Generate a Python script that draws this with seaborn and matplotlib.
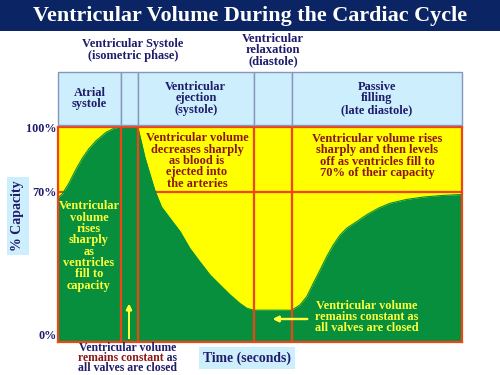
"""Ventricular volume over one cardiac cycle, drawn as a filled area chart."""

import matplotlib.pyplot as plt
import seaborn as sns
from matplotlib.patches import Rectangle
from matplotlib.transforms import Bbox

# Phase boundaries (seconds) and their header labels
phase_edges = [0.0, 0.125, 0.158, 0.388, 0.463, 0.8]
phase_labels = [
    "Atrial\nsystole",
    "",
    "Ventricular\nejection\n(systole)",
    "",
    "Passive\nfilling\n(late diastole)",
]

# Ventricular volume (% of capacity)
time_s = [
    0.0, 0.009, 0.022, 0.036, 0.049, 0.061, 0.075, 0.095, 0.111, 0.121, 0.158,
    0.166, 0.172, 0.182, 0.192, 0.205, 0.222, 0.242, 0.261, 0.281, 0.301,
    0.321, 0.341, 0.36, 0.374, 0.387, 0.463, 0.479, 0.4925, 0.5055, 0.519,
    0.532, 0.545, 0.558, 0.572, 0.5915, 0.612, 0.635, 0.657, 0.69, 0.723,
    0.757, 0.79, 0.8,
]
volume_pct = [
    67, 69, 74, 80.5, 85.8, 89.8, 93.5, 97.5, 99.4, 100, 100,
    92.1, 86, 78.1, 70.4, 62.8, 57.5, 51.3, 43.6, 37.3, 31.2,
    26.5, 21.9, 18, 15.7, 14.8, 14.8, 17.2, 21.1, 27.3, 33.5,
    39.7, 45.1, 49.6, 53, 56, 59.3, 62.3, 64.5, 66.3, 67.4,
    68.1, 68.5, 68.6,
]
y_ticks = [0, 70, 100]
y_tick_labels = ["0%", "70%", "100%"]

NAVY = "#1e1c6b"
TITLE_BG = "#0b2463"
MAROON = "#8c1616"
GREEN = "#078f3e"
YELLOW = "#ffff00"
YELLOW_TXT = "#ffff3c"
RED = "#ee4416"
LIGHT_BLUE = "#cdeefc"
BOX_EDGE = "#8896be"

W, H = 500, 375


def fx(x):
    return x / W


def fy(y):
    return 1 - y / H


sns.set_theme(style="white")
plt.rcParams["font.family"] = ["Liberation Serif", "DejaVu Serif"]
plt.rcParams["font.weight"] = "bold"

fig = plt.figure(figsize=(5, 3.75), dpi=100)
fig.patch.set_facecolor("white")

# title bar
fig.patches.append(
    Rectangle((0, fy(31)), 1, 31 / H, transform=fig.transFigure,
              facecolor=TITLE_BG, edgecolor="none", zorder=0)
)
fig.text(fx(250), fy(16), "Ventricular Volume During the Cardiac Cycle",
         color="white", fontsize=15.9, fontweight="bold", ha="center", va="center")

# main plot
ax = fig.add_axes([fx(58), fy(342), 404 / W, 215 / H])
ax.set_facecolor(YELLOW)
ax.axhline(70, color=RED, lw=1.6, zorder=1)
ax.fill_between(time_s, 0, volume_pct, color=GREEN, lw=0, zorder=2)
sns.lineplot(x=time_s, y=volume_pct, ax=ax, color=GREEN, lw=0.8, zorder=2)
for edge in phase_edges[1:-1]:
    ax.axvline(edge, color=RED, lw=1.6, zorder=3)
ax.set_xlim(phase_edges[0], phase_edges[-1])
ax.set_ylim(0, 100)
ax.set_xticks([])
ax.set_yticks(y_ticks)
ax.set_yticklabels(y_tick_labels, color=NAVY, fontsize=8.7, fontweight="bold")
ax.get_yticklabels()[0].set_va("bottom")
ax.tick_params(axis="y", length=0, pad=1)
for side, spine in ax.spines.items():
    spine.set_color(RED)
    spine.set_linewidth(1.6)
    spine.set_zorder(4)

# phase header row
hax = fig.add_axes([fx(58), fy(125), 404 / W, 53 / H], sharex=ax)
hax.set_ylim(0, 1)
hax.axis("off")
for left, right, label in zip(phase_edges[:-1], phase_edges[1:], phase_labels):
    hax.add_patch(Rectangle((left, 0), right - left, 1, facecolor=LIGHT_BLUE,
                            edgecolor=BOX_EDGE, lw=1, clip_on=False))
    if label:
        hax.text((left + right) / 2, 0.5, label, ha="center", va="center",
                 color=NAVY, fontsize=8.9, fontweight="bold", linespacing=0.93)

fig.text(fx(133), fy(50), "Ventricular Systole\n(isometric phase)", ha="center",
         va="center", color=NAVY, fontsize=8.9, fontweight="bold", linespacing=0.92)
fig.text(fx(273), fy(50), "Ventricular\nrelaxation\n(diastole)", ha="center",
         va="center", color=NAVY, fontsize=9.1, fontweight="bold", linespacing=0.92)

# axis labels in light blue boxes
fig.text(fx(18), fy(216), "% Capacity", rotation=90, ha="center", va="center",
         color=NAVY, fontsize=10, fontweight="bold",
         bbox=dict(facecolor=LIGHT_BLUE, edgecolor="none", pad=3))
fig.text(fx(247), fy(358), "Time (seconds)", ha="center", va="center",
         color=NAVY, fontsize=9.9, fontweight="bold",
         bbox=dict(facecolor=LIGHT_BLUE, edgecolor="none", pad=3))

# annotations inside the plot
fig.text(fx(197), fy(161), "Ventricular volume\ndecreases sharply\nas blood is\n"
         "ejected into\nthe arteries", ha="center", va="center", color=MAROON,
         fontsize=8.9, fontweight="bold", linespacing=0.92)
fig.text(fx(377), fy(156), "Ventricular volume rises\nsharply and then levels\n"
         "off as ventricles fill to\n70% of their capacity", ha="center",
         va="center", color=MAROON, fontsize=9, fontweight="bold", linespacing=0.92)
fig.text(fx(89), fy(246), "Ventricular\nvolume\nrises\nsharply\nas\nventricles\n"
         "fill to\ncapacity", ha="center", va="center", color=YELLOW_TXT,
         fontsize=8.9, fontweight="bold", linespacing=0.93)
fig.text(fx(367), fy(317), "Ventricular volume\nremains constant as\n"
         "all valves are closed", ha="center", va="center", color=YELLOW_TXT,
         fontsize=8.8, fontweight="bold", linespacing=0.92)

# arrows
fig.add_artist(plt.annotate("", xy=(fx(270), fy(319)), xytext=(fx(310), fy(319)),
                            xycoords="figure fraction", textcoords="figure fraction",
                            arrowprops=dict(arrowstyle="-|>", color=YELLOW_TXT, lw=1.6,
                                            mutation_scale=8)))
fig.add_artist(plt.annotate("", xy=(fx(129), fy(301)), xytext=(fx(129), fy(341)),
                            xycoords="figure fraction", textcoords="figure fraction",
                            arrowprops=dict(arrowstyle="-|>", color=YELLOW_TXT, lw=1.4,
                                            mutation_scale=8)))

# bottom note: same text block drawn in clipped pieces so that
# "remains constant" is maroon and the rest navy
note = "Ventricular volume\nremains constant as\nall valves are closed"
note_kw = dict(fontsize=8.5, fontweight="bold", ha="center", va="center",
               linespacing=0.82)
probe_line = fig.text(0, 0, "remains constant as", fontsize=8.5, fontweight="bold")
probe_red = fig.text(0, 0, "remains constant", fontsize=8.5, fontweight="bold")
fig.canvas.draw()
line_w = probe_line.get_window_extent().width
red_w = probe_red.get_window_extent().width
probe_line.remove()
probe_red.remove()

x0 = 128 - line_w / 2 - 2
x1 = x0 + 2 + red_w + 1.5
band_lo, band_hi = H - 363.3, H - 352.7
pieces = [
    (NAVY, Bbox.from_extents(0, band_hi, W, H)),
    (NAVY, Bbox.from_extents(0, 0, W, band_lo)),
    (NAVY, Bbox.from_extents(x1, band_lo, W, band_hi)),
    (MAROON, Bbox.from_extents(x0, band_lo, x1, band_hi)),
]
for colour, clip in pieces:
    piece = fig.text(fx(128), fy(358), note, color=colour, **note_kw)
    piece.set_clip_box(clip)

fig.savefig("out.png", dpi=100)
